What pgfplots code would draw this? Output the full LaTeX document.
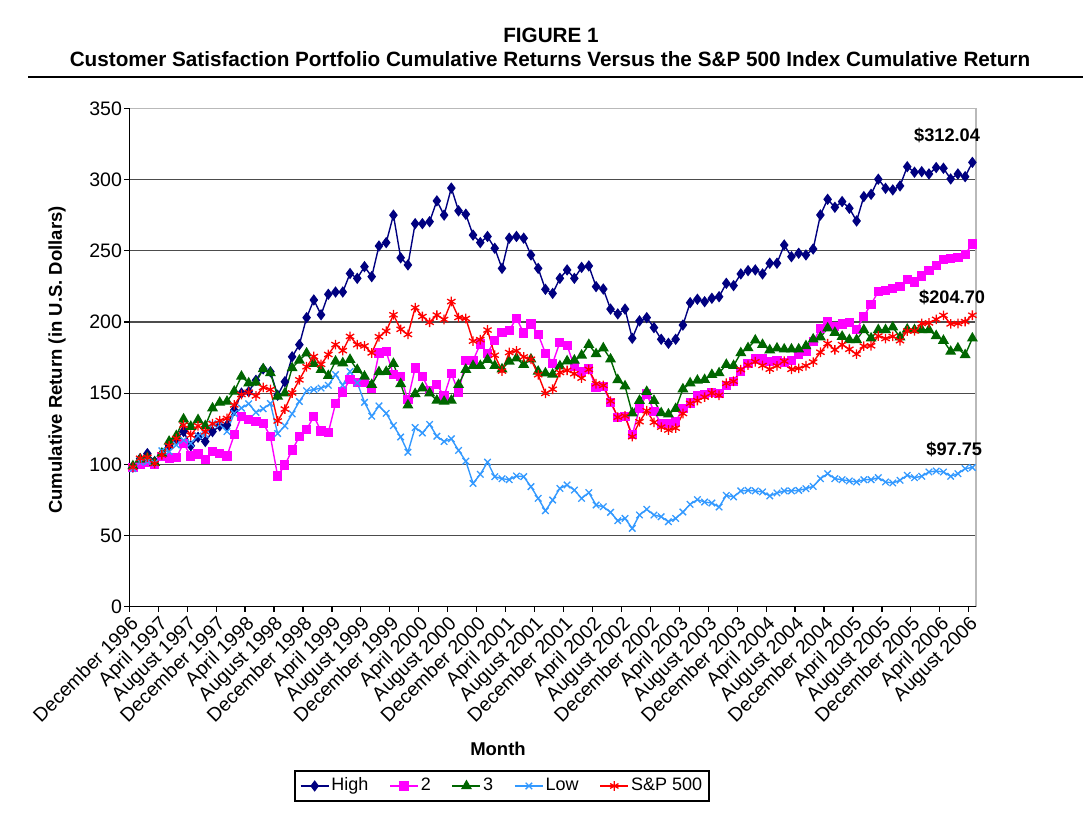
\documentclass[border=0pt]{standalone}
\usepackage{fontspec}
\setmainfont{Liberation Sans}
\usepackage{pgfplots}
\usepackage{pgfplotstable}
\pgfplotsset{compat=1.18}
\definecolor{cHigh}{RGB}{0,0,128}
\definecolor{cTwo}{RGB}{255,0,255}
\definecolor{cThree}{RGB}{0,102,0}
\definecolor{cLow}{RGB}{51,153,255}
\definecolor{cSP}{RGB}{255,0,0}

\pgfplotstableread{
i H M G L S
0 98 98 98.8 97 98.0
1 104 100 103.5 101.5 104.2
2 107.5 101 104.7 102 104.9
3 102 100 101.2 101 100.6
4 107 105.4 107.7 109.5 106.6
5 113 104.5 116 109 113.1
6 118 104.7 120 113.6 118.1
7 123 114.8 131.7 117 127.6
8 113 105.9 126.5 114.8 120.4
9 119 107.3 131.2 120 127.0
10 116 103.5 127 121 122.8
11 123 108.9 139.4 128.5 128.5
12 127 107.7 143.4 128 130.7
13 127.5 105.9 144.1 123 132.2
14 138 120.7 151.2 135.8 141.7
15 150 133.6 161.7 139.5 149.0
16 151 131.7 157 142.5 150.6
17 159 130 157.5 136.5 148.0
18 167 128.9 166.9 139 154.0
19 165 119.5 164.1 142.7 152.5
20 148.5 91.8 147.7 121.6 130.4
21 158 99.5 150 127 138.8
22 175.5 110 167.6 135.4 150.1
23 184 119.3 173 144.1 159.3
24 203 124.4 178 151.6 168.5
25 215.4 133.6 170.7 152.5 175.7
26 205 123.4 166.4 153.5 170.2
27 219.4 122.3 162.2 155.5 177.1
28 221 142.7 172.3 163 184.1
29 221 150.8 171.1 155.5 179.8
30 234 159.6 173.5 165.2 189.8
31 230.6 157.5 166.4 157.2 184.0
32 238.8 157.2 161.7 143.5 183.1
33 231.8 153.5 155.9 133.8 178.2
34 253.3 178.2 164.8 141 189.6
35 255.7 179 165 135.8 193.5
36 275 163 170.7 127.2 205.0
37 245 161.5 156.5 119.2 194.8
38 240 145.3 141.5 108.5 191.2
39 269 167.6 149.5 125.8 210.0
40 269 161.7 153.5 122 203.8
41 270.4 151.5 150 128 199.7
42 285 155.9 144.8 119.7 204.8
43 275 148 144.1 116 201.7
44 294 163.8 144.8 117.9 214.3
45 278 150.5 155.9 109.8 203.1
46 275.6 172.8 166.5 102.2 202.4
47 261 172.8 169.2 86.6 186.5
48 255.7 184.5 169.2 93 187.5
49 260 178 173.5 101.5 194.3
50 251.7 187.2 169.2 91.3 176.6
51 237.6 192.7 166.8 89.9 165.5
52 258.8 193.9 172.3 89.2 178.5
53 260 202.6 174.5 91.8 179.7
54 258.8 192.2 170 91.3 175.4
55 247 198.5 173.8 84.3 173.8
56 237.6 191.3 165.2 76.1 162.9
57 222.9 178 164 67.4 149.8
58 220 171 163.2 74.9 152.7
59 230.6 185.7 169 83.1 164.5
60 236.5 183.5 172.5 85.5 166.0
61 230.6 168.5 173 81.9 163.6
62 238.3 165.4 176.5 76.1 160.5
63 239.3 167 184 80.1 166.6
64 224.8 153.7 177.5 71.4 156.6
65 223.1 154.4 181.6 70.2 155.4
66 209 143.4 173.8 66.3 144.4
67 205.6 133 159.3 60.4 133.1
68 209 133.8 154.9 62 134.0
69 188.5 120.7 135.9 55 119.4
70 200.7 139 144.7 64.4 129.9
71 203 149.4 151 68.4 137.6
72 196 137 144.7 64.4 129.5
73 187.8 128.8 136 63.2 126.1
74 185 128.6 135.2 59.7 124.1
75 187.8 130 139 62 125.4
76 197.8 139.4 152.8 66.5 135.7
77 213.5 143 157 71.9 142.8
78 215.9 148.4 158.9 75.2 144.7
79 214.2 148.8 159.4 73.5 147.2
80 216.6 150.5 162.9 72.8 150.1
81 217.7 150 164.1 70 148.5
82 227.1 155.2 170 78.2 156.9
83 225.5 158.2 169.2 77.1 158.3
84 233.7 165.3 178.2 81.3 166.5
85 236 170.7 181.7 81.7 169.7
86 236.5 173.9 187.1 81.3 172.0
87 233.7 173.9 184 80.6 169.4
88 241.2 172.3 180.2 77.8 166.8
89 241.2 173 181.5 79.9 169.1
90 254 171.5 180.8 81.3 172.4
91 245.8 173 180.8 81.3 166.7
92 248.2 177.5 180.8 81.7 167.4
93 247 179.5 183.1 82.9 169.2
94 251.2 186 187.8 84.5 171.8
95 275.1 195.5 189.2 89.9 178.7
96 286.1 200.2 195.6 93.4 184.8
97 280.5 196.7 192.5 89.9 180.4
98 284.5 198.6 189.7 89.2 184.0
99 279.8 199.5 187.4 88.3 180.8
100 270.9 194.4 187.4 87.6 177.4
101 288 204 194.4 89.2 183.0
102 289.6 212.4 188.5 89.2 183.2
103 300.2 221.3 194.4 90.6 190.1
104 293.8 222 194.4 87.6 188.3
105 292.7 223.7 196.3 86.9 189.8
106 295.5 224.8 189.2 88.8 186.8
107 309 230 194.8 92.3 193.6
108 305.1 228 194.4 90.6 193.7
109 305.5 232.3 194.4 91.6 198.9
110 303.9 236 194.4 94.6 199.3
111 308.4 239.6 190.2 95.3 201.8
112 307.9 243.6 186.9 94.6 204.6
113 300.4 244.7 179.2 91.6 198.6
114 303.9 245.4 181.5 93.4 198.9
115 302 247.5 176.8 97 200.2
116 312.04 254.7 188.5 97.75 204.7
}\data

\begin{document}
\begin{tikzpicture}
\path[use as bounding box] (0pt,0pt) rectangle (541.5pt,-409.5pt);
\node[font=\bfseries\fontsize{10.35}{12}\selectfont, anchor=base] at (275.5pt,-21.25pt) {FIGURE 1};
\node[font=\bfseries\fontsize{10.35}{12}\selectfont, anchor=base] at (275pt,-33.25pt) {Customer Satisfaction Portfolio Cumulative Returns Versus the S\&P 500 Index Cumulative Return};
\draw[line width=1.4pt] (14pt,-38.5pt) -- (541.5pt,-38.5pt);
\node[rotate=90, font=\bfseries\fontsize{9.25}{11}\selectfont] at (28.5pt,-180pt) {Cumulative Return (in U.S. Dollars)};
\node[font=\bfseries\fontsize{9.25}{11}\selectfont] at (249pt,-374.5pt) {Month};
\begin{axis}[
  at={(64.65pt,-303.35pt)}, anchor=south west,
  width=423.35pt, height=249.2pt, scale only axis,
  xmin=-0.5, xmax=116.5, ymin=0, ymax=350,
  clip=false,
  xtick={-0.5,3.5,...,115.5},
  xticklabels={December 1996, April 1997, August 1997, December 1997, April 1998, August 1998, December 1998, April 1999, August 1999, December 1999, April 2000, August 2000, December 2000, April 2001, August 2001, December 2001, April 2002, August 2002, December 2002, April 2003, August 2003, December 2003, April 2004, August 2004, December 2004, April 2005, August 2005, December 2005, April 2006, August 2006},
  ytick={0,50,...,350},
  tick pos=left,
  tick align=outside,
  major tick length=2.5pt,
  tick style={black, line width=0.6pt},
  ticklabel style={font=\fontsize{9.75}{11}\selectfont},
  xticklabel style={rotate=45, anchor=north east, inner sep=1pt},
  yticklabel style={inner sep=1pt},
  /pgf/number format/assume math mode=true,
  ymajorgrids,
  major grid style={black!70, line width=0.6pt},
  axis line style={gray!55, line width=0.7pt},
  legend columns=5,
  legend style={at={(0.4402,-0.3597)}, anchor=center, draw=black, line width=0.8pt,
    font=\fontsize{9}{11}\selectfont, inner sep=2.5pt, column sep=0pt,
    nodes={inner sep=1pt},
    /tikz/every even column/.append style={column sep=9.5pt}},
  legend image code/.code={\draw[mark repeat=2,mark phase=2,#1,line width=0.7pt] plot coordinates {(0pt,0pt) (7pt,0pt) (14pt,0pt)};},
]
\addplot[color=cHigh, line width=0.7pt, mark=diamond*, mark size=2.3pt, mark options={solid, fill=cHigh}] table[x=i,y=H] {\data};
\addlegendentry{High}
\addplot[color=cTwo, line width=0.7pt, mark=square*, mark size=1.95pt, mark options={solid, fill=cTwo}] table[x=i,y=M] {\data};
\addlegendentry{2}
\addplot[color=cThree, line width=0.7pt, mark=triangle*, mark size=2.5pt, mark options={solid, fill=cThree}] table[x=i,y=G] {\data};
\addlegendentry{3}
\addplot[color=cLow, line width=0.7pt, mark=x, mark size=2.3pt, mark options={solid, line width=0.65pt}] table[x=i,y=L] {\data};
\addlegendentry{Low}
\addplot[color=cSP, line width=0.7pt, mark=asterisk, mark size=2.4pt, mark options={solid, line width=0.65pt}] table[x=i,y=S] {\data};
\addlegendentry{S\&P 500}
\draw[gray!55, line width=0.8pt] (rel axis cs:0,1) -- (rel axis cs:1,1) -- (rel axis cs:1,0);
\draw[black, line width=0.75pt] (rel axis cs:0,1) -- (rel axis cs:0,0) -- (rel axis cs:1,0);
\node[font=\bfseries\fontsize{9.1}{11}\selectfont] at (axis cs:112.5,331.2) {\$312.04};
\node[font=\bfseries\fontsize{9.1}{11}\selectfont] at (axis cs:113.2,217.5) {\$204.70};
\node[font=\bfseries\fontsize{9.1}{11}\selectfont] at (axis cs:113.5,110.7) {\$97.75};
\end{axis}
\end{tikzpicture}
\end{document}
